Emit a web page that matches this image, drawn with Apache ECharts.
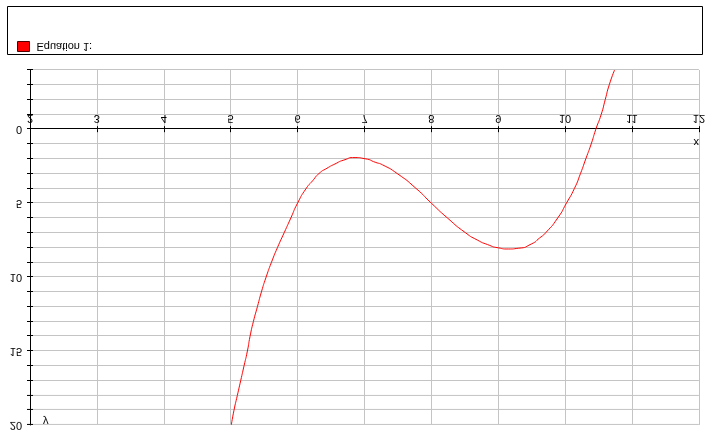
<!DOCTYPE html>
<html><head><meta charset="utf-8">
<script src="https://cdn.jsdelivr.net/npm/echarts@6/dist/echarts.min.js"></script>
<style>html,body{margin:0;padding:0;background:#fff;}#c{width:708px;height:440px;transform:scaleY(-1);}</style>
</head><body><div id="c"></div>
<script>
// Data read from the (vertically mirrored) reference picture
const seriesName = 'Equation 1:';
const curveX = [5.01,5.05,5.10,5.15,5.20,5.25,5.29,5.34,5.40,5.46,5.53,5.61,5.70,5.80,5.90,6.00,6.13,6.225,6.32,6.44,6.56,6.69,6.86,7.01,7.17,7.27,7.49,7.77,8.00,8.24,8.51,8.69,8.84,9.00,9.15,9.30,9.50,9.62,9.71,9.89,10.02,10.14,10.23,10.31,10.39,10.46,10.54,10.60,10.66,10.74];
const curveY = [20,19,18,17,16,15,14,13,12,11,10,9,8,7,6,5,4,3.49,3,2.64,2.35,2.09,1.92,2.0,2.25,2.41,3,4,5,6,7,7.5,7.8,8.02,8.1,8.05,7.75,7.35,7,6,5,4,3,2,1,0,-1,-2,-3,-4];
const xMin = 2, xMax = 12, xStep = 1;
const yMin = -4, yMax = 20, yStep = 1, yLabelStep = 5;
const xName = 'x', yName = 'y';

const font = 'Liberation Sans';
const gridH = 355;
const zeroOffset = -gridH * (0 - yMin) / (yMax - yMin); // lift x axis to y = 0
const chart = echarts.init(document.getElementById('c'), null, {renderer: 'canvas'});
const data = curveX.map((x, i) => [x, curveY[i]]);
const baseX = {type: 'value', min: xMin, max: xMax, interval: xStep, gridIndex: 0, position: 'bottom', offset: zeroOffset};
const baseY = {type: 'value', min: yMin, max: yMax, interval: yStep, gridIndex: 0, position: 'left', offset: 0};
chart.setOption({
  animation: false,
  backgroundColor: '#fff',
  textStyle: {fontFamily: font},
  grid: {left: 30, right: 8, top: 15, height: gridH, containLabel: false},
  graphic: [{type: 'rect', shape: {x: 7.5, y: 385.5, width: 695, height: 48}, style: {fill: 'none', stroke: '#000', lineWidth: 1}, silent: true}],
  legend: {
    left: 17, top: 388, padding: 0, itemWidth: 12, itemHeight: 10, itemGap: 10,
    icon: 'rect',
    itemStyle: {color: '#ff0000', borderColor: '#500000', borderWidth: 1},
    textStyle: {fontFamily: font, fontSize: 11, color: '#000', padding: [0,0,0,2]},
    data: [seriesName]
  },
  xAxis: [
    Object.assign({}, baseX, {
      name: xName, nameLocation: 'end', nameGap: 0,
      nameTextStyle: {fontFamily: font, fontSize: 11, color: '#000', align: 'right', verticalAlign: 'bottom', padding: [0,0,7,0]},
      axisLine: {onZero: false, lineStyle: {color: '#000', width: 1}},
      axisTick: {show: true, inside: false, length: 3, lineStyle: {color: '#000'}},
      axisLabel: {fontFamily: font, fontSize: 11, color: '#000', margin: 6},
      splitLine: {show: true, lineStyle: {color: '#c4c4c4', width: 1}}
    }),
    Object.assign({}, baseX, {
      axisLine: {onZero: false, show: false},
      axisTick: {show: true, inside: true, length: 3, lineStyle: {color: '#000'}},
      axisLabel: {show: false}, splitLine: {show: false}
    })
  ],
  yAxis: [
    Object.assign({}, baseY, {
      name: yName, nameLocation: 'end', nameGap: -4,
      nameTextStyle: {fontFamily: font, fontSize: 11, color: '#000', align: 'left', verticalAlign: 'middle', padding: [0,0,0,13]},
      axisLine: {show: true, onZero: false, lineStyle: {color: '#000', width: 1}},
      axisTick: {show: true, inside: false, length: 3, lineStyle: {color: '#000'}},
      axisLabel: {fontFamily: font, fontSize: 11, color: '#000', margin: 8,
        formatter: v => (v % yLabelStep === 0 ? String(v) : '')},
      splitLine: {show: true, lineStyle: {color: '#c4c4c4', width: 1}}
    }),
    Object.assign({}, baseY, {
      axisLine: {show: false, onZero: false},
      axisTick: {show: true, inside: true, length: 3, lineStyle: {color: '#000'}},
      axisLabel: {show: false}, splitLine: {show: false}
    })
  ],
  series: [{
    name: seriesName, type: 'line', xAxisIndex: 0, yAxisIndex: 0,
    data: data, showSymbol: false, symbol: 'none', smooth: 0.7, clip: true,
    lineStyle: {color: '#ff0000', width: 1}, itemStyle: {color: '#ff0000'}
  }]
});
</script></body></html>
